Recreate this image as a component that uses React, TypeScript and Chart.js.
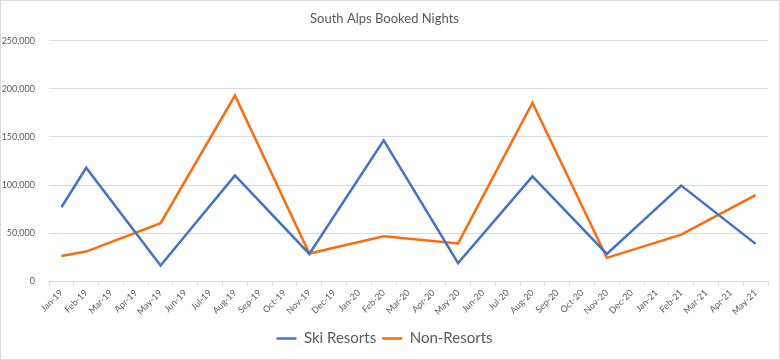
import React, { useEffect, useRef } from "react";
import { Chart, registerables } from "chart.js";

Chart.register(...registerables);

const months: string[] = [
  "Jan-19", "Feb-19", "Mar-19", "Apr-19", "May-19", "Jun-19", "Jul-19", "Aug-19", "Sep-19", "Oct-19", "Nov-19", "Dec-19",
  "Jan-20", "Feb-20", "Mar-20", "Apr-20", "May-20", "Jun-20", "Jul-20", "Aug-20", "Sep-20", "Oct-20", "Nov-20", "Dec-20",
  "Jan-21", "Feb-21", "Mar-21", "Apr-21", "May-21",
];

const skiResorts: (number | null)[] = [
  77000, 118000, null, null, 16500, null, null, 110000, null, null, 28500, null,
  null, 146500, null, null, 19000, null, null, 109000, null, null, 28500, null,
  null, 99500, null, null, 39000,
];

const nonResorts: (number | null)[] = [
  26500, 31000, null, null, 60500, null, null, 193000, null, null, 29000, null,
  null, 47000, null, null, 39500, null, null, 185500, null, null, 24500, null,
  null, 48500, null, null, 89500,
];

const yTicks: number[] = [0, 50000, 100000, 150000, 200000, 250000];

const FONT = "Lato, 'Open Sans', sans-serif";

export default function App() {
  const ref = useRef<HTMLCanvasElement | null>(null);

  useEffect(() => {
    document.body.style.margin = "0";
    if (!ref.current) return;
    const chart = new Chart(ref.current, {
      type: "line",
      data: {
        labels: months,
        datasets: [
          {
            label: "Ski Resorts",
            data: skiResorts,
            borderColor: "#4472C4",
            backgroundColor: "#4472C4",
            borderWidth: 2.5,
            pointRadius: 0,
            spanGaps: true,
            tension: 0,
          },
          {
            label: "Non-Resorts",
            data: nonResorts,
            borderColor: "#FF6A0A",
            backgroundColor: "#FF6A0A",
            borderWidth: 2.5,
            pointRadius: 0,
            spanGaps: true,
            tension: 0,
          },
        ],
      },
      options: {
        animation: false,
        responsive: false,
        maintainAspectRatio: false,
        layout: { padding: { left: 0, right: 11, top: 6, bottom: 3 } },
        plugins: {
          title: {
            display: true,
            text: "South Alps Booked Nights",
            color: "#595959",
            font: { family: FONT, size: 13, weight: "normal" },
            padding: { top: 4, bottom: 14 },
          },
          legend: {
            display: true,
            position: "bottom",
            labels: {
              usePointStyle: true,
              pointStyle: "line",
              pointStyleWidth: 20,
              boxWidth: 22,
              color: "#595959",
              font: { family: FONT, size: 15 },
              padding: 6,
            },
          },
          tooltip: { enabled: false },
        },
        scales: {
          x: {
            offset: true,
            afterFit: (scale: any) => {
              scale.height = scale.height + 6;
            },
            grid: {
              display: true,
              offset: true,
              drawOnChartArea: false,
              drawTicks: true,
              tickLength: 4,
              color: "#d9d9d9",
            },
            border: { display: true, color: "#d9d9d9" },
            ticks: {
              autoSkip: false,
              minRotation: 45,
              maxRotation: 45,
              color: "#595959",
              font: { family: FONT, size: 9 },
              padding: 2,
            },
          },
          y: {
            min: 0,
            max: 250000,
            afterBuildTicks: (scale: any) => {
              scale.ticks = yTicks.map((v) => ({ value: v }));
            },
            afterFit: (scale: any) => {
              scale.width = 48;
            },
            grid: { color: "#d9d9d9", drawTicks: false },
            border: { display: false },
            ticks: {
              color: "#595959",
              font: { family: FONT, size: 9 },
              padding: 14,
              callback: (v: any) => Number(v).toLocaleString("en-US"),
            },
          },
        },
      },
    });
    return () => chart.destroy();
  }, []);

  return (
    <div
      style={{
        width: 780,
        height: 360,
        boxSizing: "border-box",
        border: "1px solid #d9d9d9",
        background: "#fff",
      }}
    >
      <canvas ref={ref} width={778} height={358} style={{ display: "block" }} />
    </div>
  );
}
